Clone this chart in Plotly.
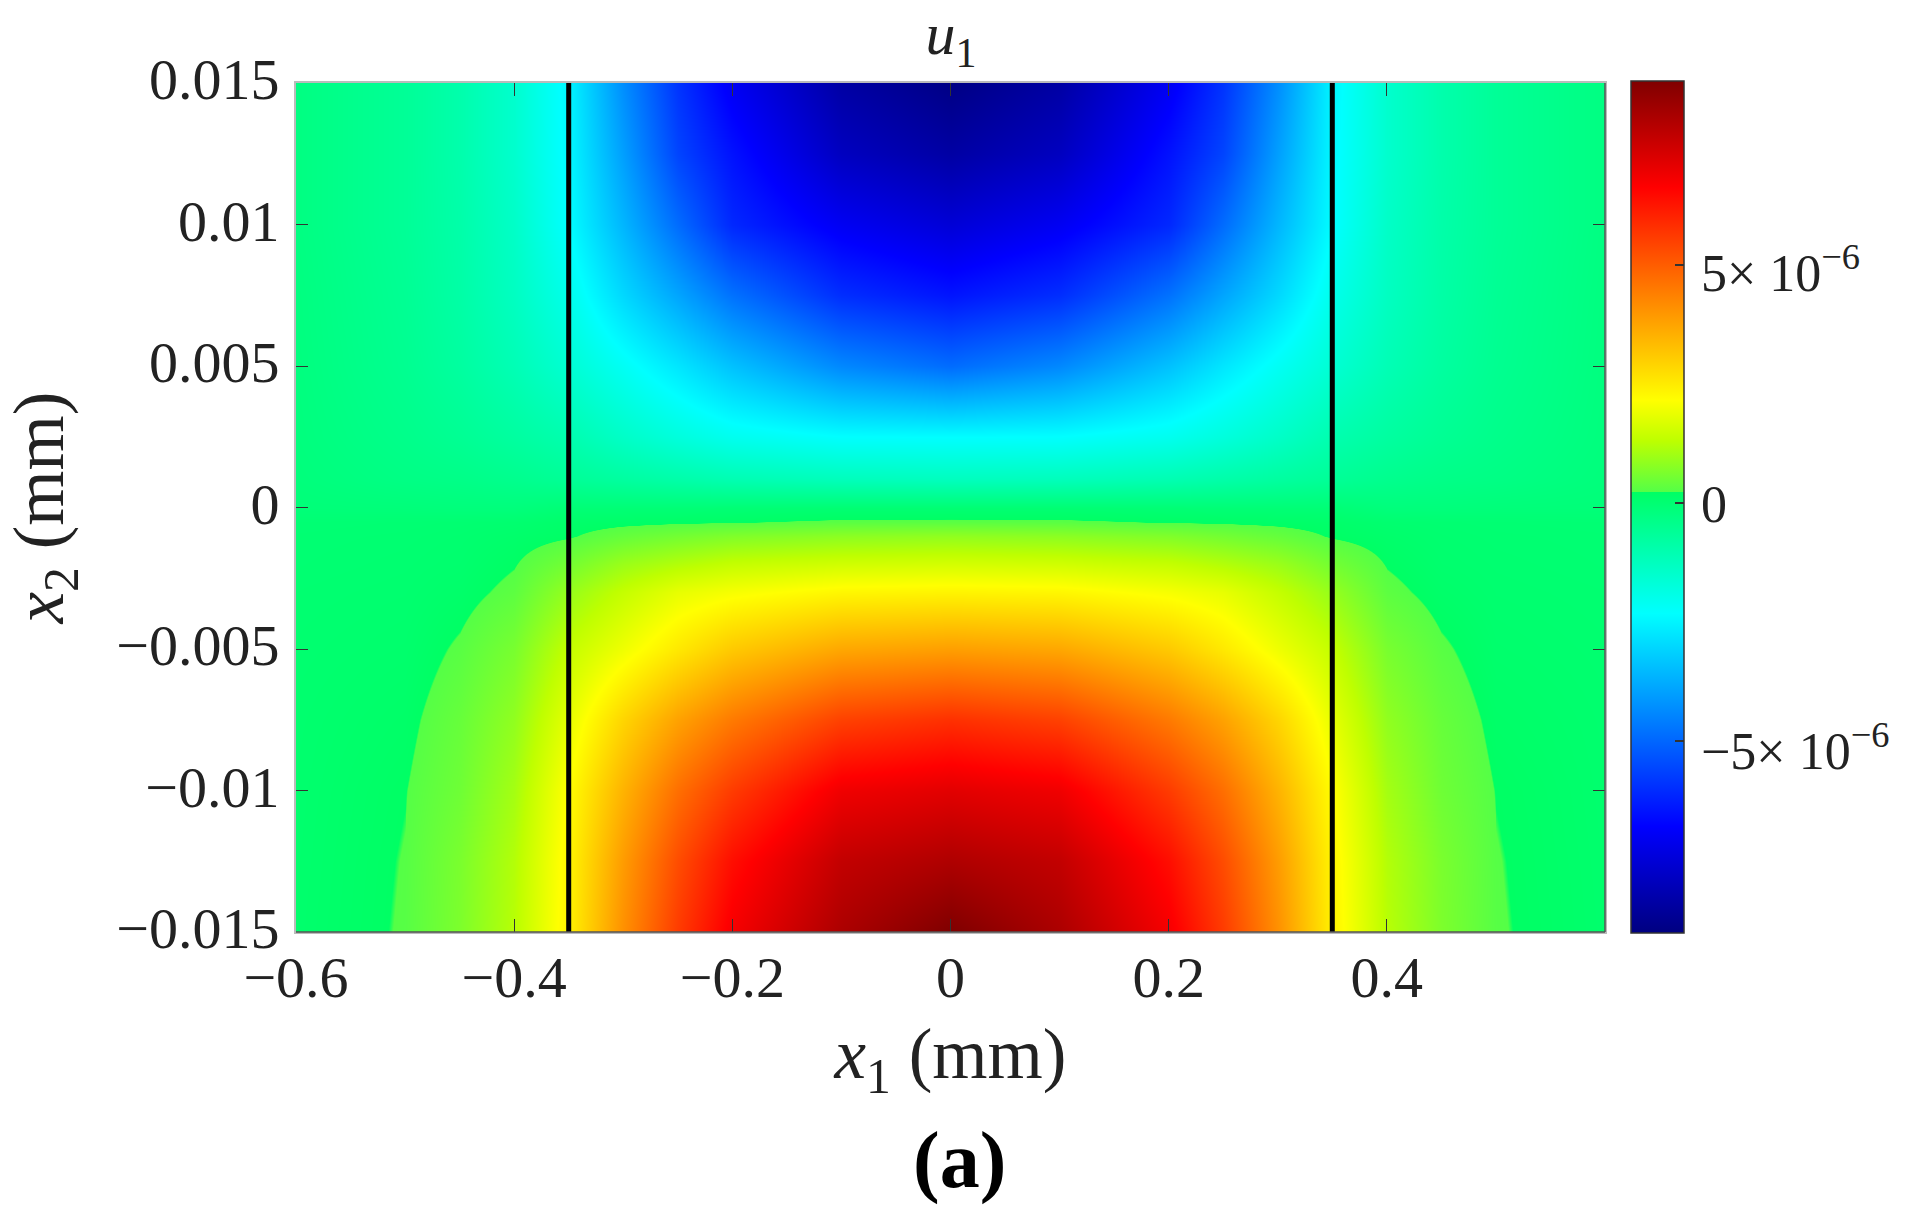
import plotly.graph_objects as go

##### Data

x_vals = [-0.6, -0.5, -0.45, -0.4, -0.35, -0.3, -0.25, -0.2, -0.1, 0, 0.1, 0.2, 0.25, 0.3, 0.35, 0.4, 0.45, 0.5, 0.6]
y_vals = [0.015, 0.0125, 0.01, 0.0075, 0.005, 0.0025, 0.001, 0, -0.0005, -0.001, -0.002, -0.003, -0.005, -0.0075, -0.01, -0.0125, -0.015]

# u1 in units of 1e-6, one row per y value, top of the plot first
u1_upper = [
    [-0.25, -0.6, -0.95, -1.5, -2.5, -4.3, -5.9, -7.0, -8.4, -8.95, -8.4, -7.0, -5.9, -4.3, -2.5, -1.5, -0.95, -0.6, -0.25],
    [-0.25, -0.6, -0.95, -1.5, -2.45, -4.0, -5.6, -6.5, -7.9, -8.4, -7.9, -6.5, -5.6, -4.0, -2.45, -1.5, -0.95, -0.6, -0.25],
    [-0.25, -0.6, -0.9, -1.4, -2.35, -3.6, -4.9, -6.1, -7.0, -7.5, -7.0, -6.1, -4.9, -3.6, -2.35, -1.4, -0.9, -0.6, -0.25],
    [-0.22, -0.55, -0.85, -1.3, -2.0, -3.0, -3.9, -4.8, -6.0, -6.45, -6.0, -4.8, -3.9, -3.0, -2.0, -1.3, -0.85, -0.55, -0.22],
    [-0.2, -0.5, -0.75, -1.1, -1.6, -2.15, -2.75, -3.4, -4.4, -4.9, -4.4, -3.4, -2.75, -2.15, -1.6, -1.1, -0.75, -0.5, -0.2],
    [-0.18, -0.4, -0.55, -0.75, -1.0, -1.4, -1.75, -2.05, -2.3, -2.32, -2.3, -2.05, -1.75, -1.4, -1.0, -0.75, -0.55, -0.4, -0.18],
    [-0.15, -0.3, -0.35, -0.45, -0.6, -0.75, -0.9, -1.05, -1.2, -1.25, -1.2, -1.05, -0.9, -0.75, -0.6, -0.45, -0.35, -0.3, -0.15],
    [-0.1, -0.12, -0.15, -0.15, -0.05, -0.05, -0.05, -0.03, 0, 0, 0, -0.03, -0.05, -0.05, -0.05, -0.15, -0.15, -0.12, -0.1],
]
u1_lower = [
    [-0.02, 0, 0.02, 0.05, 0.13, 0.17, 0.2, 0.22, 0.29, 0.3, 0.29, 0.22, 0.2, 0.17, 0.13, 0.05, 0.02, 0, -0.02],
    [0, 0.02, 0.05, 0.12, 0.21, 0.4, 0.55, 0.68, 0.8, 0.85, 0.8, 0.68, 0.55, 0.4, 0.21, 0.12, 0.05, 0.02, 0],
    [0.01, 0.04, 0.08, 0.22, 0.55, 0.95, 1.2, 1.4, 1.55, 1.6, 1.55, 1.4, 1.2, 0.95, 0.55, 0.22, 0.08, 0.04, 0.01],
    [0.03, 0.06, 0.14, 0.32, 0.9, 1.4, 1.85, 2.05, 2.3, 2.35, 2.3, 2.05, 1.85, 1.4, 0.9, 0.32, 0.14, 0.06, 0.03],
    [0.05, 0.1, 0.28, 0.6, 1.4, 1.95, 2.55, 3.1, 3.7, 3.85, 3.7, 3.1, 2.55, 1.95, 1.4, 0.6, 0.28, 0.1, 0.05],
    [0.07, 0.17, 0.42, 0.85, 1.85, 2.9, 3.8, 4.5, 5.5, 5.8, 5.5, 4.5, 3.8, 2.9, 1.85, 0.85, 0.42, 0.17, 0.07],
    [0.08, 0.23, 0.5, 1.05, 2.2, 3.5, 4.7, 5.6, 6.9, 7.15, 6.9, 5.6, 4.7, 3.5, 2.2, 1.05, 0.5, 0.23, 0.08],
    [0.09, 0.25, 0.62, 1.2, 2.35, 3.9, 5.3, 6.4, 7.7, 8.05, 7.7, 6.4, 5.3, 3.9, 2.35, 1.2, 0.62, 0.25, 0.09],
    [0.1, 0.26, 0.65, 1.25, 2.4, 4.1, 5.6, 6.8, 8.1, 8.9, 8.1, 6.8, 5.6, 4.1, 2.4, 1.25, 0.65, 0.26, 0.1],
]

wall_left = [-0.35, -0.35]
wall_right = [0.35, 0.35]
wall_y = [-0.015, 0.015]

x_ticks = [-0.6, -0.4, -0.2, 0, 0.2, 0.4]
x_labels = ["\u22120.6", "\u22120.4", "\u22120.2", "0", "0.2", "0.4"]
y_ticks = [0.015, 0.01, 0.005, 0, -0.005, -0.01, -0.015]
y_labels = ["0.015", "0.01", "0.005", "0", "\u22120.005", "\u22120.01", "\u22120.015"]
cbar_ticks = [-5, 0, 5]
cbar_labels = ["\u22125\u00d7 10<sup>\u22126</sup>", "0", "5\u00d7 10<sup>\u22126</sup>"]
cbar_label_py = [747, 505, 269]

# jet, with the step the contour levels leave just above zero
jet_steps = [
    [0, "rgb(0,0,128)"],
    [0.125, "rgb(0,0,255)"],
    [0.375, "rgb(0,255,255)"],
    [0.5176, "rgb(0,255,100)"],
    [0.518, "rgb(85,255,70)"],
    [0.578, "rgb(190,255,0)"],
    [0.625, "rgb(255,255,0)"],
    [0.875, "rgb(255,0,0)"],
    [1, "rgb(128,0,0)"],
]

##### Graphic handling
FONT = "Liberation Serif"
W, H = 1906, 1223

fig = go.Figure()

fig.add_trace(go.Heatmap(
    x=x_vals, y=y_vals, z=u1_upper + u1_lower,
    zmin=-9.03, zmax=8.87, zsmooth="best",
    colorscale=jet_steps,
    colorbar=dict(
        x=1631 / W, xanchor="left", xpad=0,
        y=(H - 933) / H, yanchor="bottom", ypad=0,
        len=852 / H, lenmode="fraction",
        thickness=53, thicknessmode="pixels",
        outlinecolor="#333", outlinewidth=1.5,
        ticks="inside", ticklen=9, tickwidth=1.5, tickcolor="#333",
        tickvals=cbar_ticks, showticklabels=False,
    ),
))

for wall_x in [wall_left, wall_right]:
    fig.add_trace(go.Scatter(x=wall_x, y=wall_y, mode="lines",
                             line=dict(color="black", width=5), showlegend=False))

fig.update_xaxes(
    automargin=False,
    domain=[296 / W, 1605 / W], range=[-0.6, 0.6],
    tickvals=x_ticks, ticktext=x_labels,
    tickfont=dict(family=FONT, size=58, color="#222"),
    ticks="inside", ticklen=13, tickwidth=1, tickcolor="#333",
    ticklabelstandoff=-7,
    showgrid=False, zeroline=False,
    showline=True, linecolor="#bbb", linewidth=2, mirror="allticks",
    title=dict(text="<i>x</i><sub>1</sub> (mm)", standoff=20,
               font=dict(family=FONT, size=71, color="#222")),
)
fig.update_yaxes(
    automargin=False,
    domain=[(H - 932) / H, (H - 83) / H], range=[-0.015, 0.015],
    tickvals=y_ticks, ticktext=y_labels,
    tickfont=dict(family=FONT, size=58, color="#222"),
    ticks="inside", ticklen=12, tickwidth=1, tickcolor="#333",
    ticklabelstandoff=3, ticklabelshift=-4,
    showgrid=False, zeroline=False,
    showline=True, linecolor="#bbb", linewidth=2, mirror="allticks",
    title=dict(text="<i>x</i><sub>2</sub> (mm)", standoff=36,
               font=dict(family=FONT, size=71, color="#222")),
)

cbar_notes = [
    dict(text=label, xref="paper", yref="paper", x=1699 / W, y=1 - py / H,
         xanchor="left", yanchor="middle", showarrow=False,
         font=dict(family=FONT, size=52, color="#222"))
    for label, py in zip(cbar_labels, cbar_label_py)
]

fig.update_layout(
    width=W, height=H,
    margin=dict(l=0, r=0, t=0, b=0),
    paper_bgcolor="white", plot_bgcolor="white",
    title=dict(text="<i>u</i><sub>1</sub>", x=951 / W, xanchor="center",
               y=1 - 33 / H, yanchor="middle", automargin=False,
               font=dict(family=FONT, size=60, color="#222")),
    shapes=[
        dict(type="line", xref="paper", yref="paper", x0=296 / W, x1=1605 / W,
             y0=(H - 932) / H, y1=(H - 932) / H, line=dict(color="#555", width=1.5)),
        dict(type="line", xref="paper", yref="paper", x0=1605 / W, x1=1605 / W,
             y0=(H - 932) / H, y1=(H - 83) / H, line=dict(color="#555", width=1.5)),
    ],
    annotations=cbar_notes + [
        dict(text="<b>(a)</b>", xref="paper", yref="paper", x=960 / W, y=1 - 1160 / H,
             xanchor="center", yanchor="middle", showarrow=False,
             font=dict(family=FONT, size=80, color="black")),
    ],
)

fig.write_html("out.html", config={"displayModeBar": False},
               post_script="document.body.style.margin = '0';")
